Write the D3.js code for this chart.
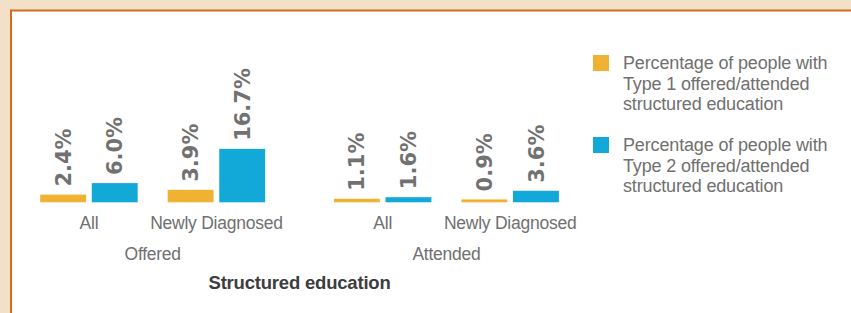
<!DOCTYPE html>
<html>
<head>
<meta charset="utf-8">
<script src="https://cdn.jsdelivr.net/npm/d3@7"></script>
<style>
  html, body { margin: 0; padding: 0; background: #f3e0c8; }
  svg { display: block; }
</style>
</head>
<body>
<svg id="chart" width="851" height="313"></svg>
<script>
const groups = ['Offered', 'Attended'];
const categories = ['All', 'Newly Diagnosed'];
const series = ['Type 1', 'Type 2'];
// values in order: Offered/All, Offered/Newly, Attended/All, Attended/Newly
const type1Values = [2.4, 3.9, 1.1, 0.9];
const type2Values = [6.0, 16.7, 1.6, 3.6];
const legendLabels = [
    ['Percentage of people with', 'Type 1 offered/attended', 'structured education'],
    ['Percentage of people with', 'Type 2 offered/attended', 'structured education']
];
const axisTitle = 'Structured education';

const colors = ['#f0b232', '#12a9d9'];
const labelGray = '#717171';
const textGray = '#707070';

const rows = [];
groups.forEach((g, gi) => {
    categories.forEach((c, ci) => {
        const k = gi * categories.length + ci;
        rows.push({ group: g, category: c, values: [type1Values[k], type2Values[k]] });
    });
});

const svg = d3.select('#chart');

// panel
svg.append('rect')
    .attr('x', 11).attr('y', 10.5)
    .attr('width', 900).attr('height', 400)
    .attr('fill', '#ffffff')
    .attr('stroke', '#d9691a')
    .attr('stroke-width', 2);

const baseline = 202.3;

const x0 = d3.scaleBand()
    .domain(groups)
    .range([25.2, 573.9])
    .paddingInner(0.132);

const x1 = d3.scaleBand()
    .domain(categories)
    .range([0, x0.bandwidth()]);

const x2 = d3.scaleBand()
    .domain(series)
    .range([15, x1.bandwidth() - 15])
    .paddingInner(0.11);

const y = d3.scaleLinear()
    .domain([0, 17])
    .range([baseline, baseline - 54.4]);

const chart = svg.append('g');

const groupG = chart.selectAll('g.group')
    .data(groups)
    .join('g')
    .attr('class', 'group')
    .attr('transform', d => `translate(${x0(d)},0)`);

const catG = groupG.selectAll('g.cat')
    .data(g => rows.filter(r => r.group === g))
    .join('g')
    .attr('class', 'cat')
    .attr('transform', d => `translate(${x1(d.category)},0)`);

const barData = d => d.values.map((v, i) => ({ series: series[i], value: v, i }));

catG.selectAll('rect')
    .data(barData)
    .join('rect')
    .attr('x', d => x2(d.series))
    .attr('width', x2.bandwidth())
    .attr('y', d => y(d.value))
    .attr('height', d => baseline - y(d.value))
    .attr('fill', d => colors[d.i]);

catG.selectAll('text.value')
    .data(barData)
    .join('text')
    .attr('class', 'value')
    .attr('transform', d => `translate(${x2(d.series) + x2.bandwidth() / 2},${y(d.value) - 8}) rotate(-90)`)
    .attr('dy', '0.36em')
    .attr('font-family', 'DejaVu Sans, sans-serif')
    .attr('font-weight', 'bold')
    .attr('font-size', 21)
    .attr('fill', labelGray)
    .text(d => d.value.toFixed(1) + '%');

// category axes inside each group
groupG.append('g')
    .attr('transform', `translate(0,${baseline + 3})`)
    .call(d3.axisBottom(x1).tickSize(0).tickPadding(11))
    .call(g => g.select('.domain').remove())
    .selectAll('text')
    .attr('font-family', 'Liberation Sans, Arial, sans-serif')
    .attr('font-size', 17.5)
    .attr('letter-spacing', -0.25)
    .attr('fill', textGray);

// group axis
chart.append('g')
    .attr('transform', `translate(0,${baseline + 34})`)
    .call(d3.axisBottom(x0).tickSize(0).tickPadding(11))
    .call(g => g.select('.domain').remove())
    .selectAll('text')
    .attr('font-family', 'Liberation Sans, Arial, sans-serif')
    .attr('font-size', 17.5)
    .attr('letter-spacing', -0.25)
    .attr('fill', textGray);

chart.append('text')
    .attr('x', (x0.range()[0] + x0.range()[1]) / 2)
    .attr('y', 289)
    .attr('text-anchor', 'middle')
    .attr('font-family', 'Liberation Sans, Arial, sans-serif')
    .attr('font-weight', 'bold')
    .attr('font-size', 18.5)
    .attr('letter-spacing', -0.2)
    .attr('fill', '#3d3d3d')
    .text(axisTitle);

// legend
const legend = svg.append('g')
    .attr('transform', 'translate(593,55)');

const item = legend.selectAll('g')
    .data(series)
    .join('g')
    .attr('transform', (d, i) => `translate(0,${i * 82})`);

item.append('rect')
    .attr('width', 16).attr('height', 16)
    .attr('fill', (d, i) => colors[i]);

item.append('text')
    .attr('x', 30)
    .attr('y', 14)
    .attr('font-family', 'Liberation Sans, Arial, sans-serif')
    .attr('font-size', 18)
    .attr('letter-spacing', -0.15)
    .attr('fill', textGray)
    .selectAll('tspan')
    .data((d, i) => legendLabels[i])
    .join('tspan')
    .attr('x', 30)
    .attr('dy', (d, j) => j === 0 ? 0 : 20.5)
    .text(d => d);
</script>
</body>
</html>
